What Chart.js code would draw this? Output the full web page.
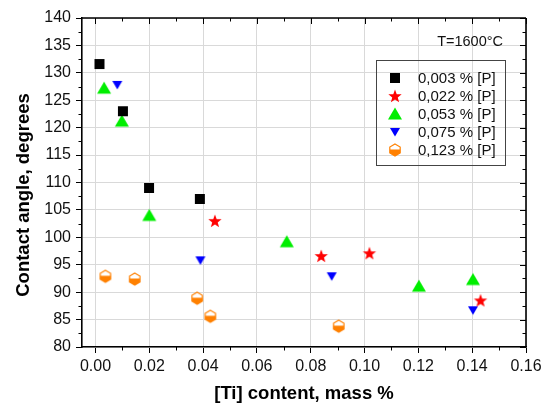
<!DOCTYPE html>
<html>
<head>
<meta charset="utf-8">
<script src="https://cdn.jsdelivr.net/npm/chart.js@4.4.0/dist/chart.umd.min.js"></script>
<style>
  html, body { margin: 0; padding: 0; background: #fff; }
  #wrap { width: 548px; height: 405px; }
</style>
</head>
<body>
<div id="wrap"><canvas id="chart" width="548" height="405"></canvas></div>
<script>
// --- data ---
const seriesLabels = ['0,003 % [P]', '0,022 % [P]', '0,053 % [P]', '0,075 % [P]', '0,123 % [P]'];

const p003X = [0.0015, 0.0102, 0.0199, 0.0388];
const p003Y = [131.6, 123.0, 109.0, 107.0];

const p022X = [0.0444, 0.0839, 0.1018, 0.1431];
const p022Y = [103.0, 96.6, 97.1, 88.5];

const p053X = [0.0032, 0.0098, 0.0200, 0.0711, 0.1202, 0.1403];
const p053Y = [127.2, 121.2, 104.0, 99.2, 91.1, 92.3];

const p075X = [0.0081, 0.0390, 0.0878, 0.1403];
const p075Y = [127.8, 95.8, 92.9, 86.7];

const p123X = [0.0037, 0.0146, 0.0378, 0.0427, 0.0904];
const p123Y = [92.9, 92.4, 88.9, 85.6, 83.8];

const xTicks = [0, 0.02, 0.04, 0.06, 0.08, 0.10, 0.12, 0.14, 0.16];
const yTicks = [80, 85, 90, 95, 100, 105, 110, 115, 120, 125, 130, 135, 140];

const FONT = '"Liberation Sans", Arial, sans-serif';

// --- marker images ---
function makeMarker(size, draw) {
    const c = document.createElement('canvas');
    c.width = size; c.height = size;
    draw(c.getContext('2d'), size / 2);
    return c;
}

const squareMk = makeMarker(12, (ctx, m) => {
    ctx.fillStyle = '#000';
    ctx.fillRect(m - 5, m - 5, 10, 10);
});

const starMk = makeMarker(16, (ctx, m) => {
    ctx.fillStyle = '#ff0000';
    ctx.beginPath();
    for (let i = 0; i < 10; i++) {
        const r = i % 2 === 0 ? 7 : 2.9;
        const a = -Math.PI / 2 + i * Math.PI / 5;
        const px = m + r * Math.cos(a), py = m + 0.5 + r * Math.sin(a);
        i === 0 ? ctx.moveTo(px, py) : ctx.lineTo(px, py);
    }
    ctx.closePath();
    ctx.fill();
});

const triUpMk = makeMarker(16, (ctx, m) => {
    ctx.fillStyle = '#00ee00';
    ctx.beginPath();
    ctx.moveTo(m, m - 6.5);
    ctx.lineTo(m + 7, m + 5.5);
    ctx.lineTo(m - 7, m + 5.5);
    ctx.closePath();
    ctx.fill();
});

const triDownMk = makeMarker(12, (ctx, m) => {
    ctx.fillStyle = '#0000ff';
    ctx.beginPath();
    ctx.moveTo(m - 5, m - 4);
    ctx.lineTo(m + 5, m - 4);
    ctx.lineTo(m, m + 4.5);
    ctx.closePath();
    ctx.fill();
});

const hexMk = makeMarker(16, (ctx, m) => {
    const pts = [];
    for (let i = 0; i < 6; i++) {
        const a = -Math.PI / 2 + i * Math.PI / 3;
        pts.push([m + 6 * Math.cos(a), m + 6 * Math.sin(a)]);
    }
    ctx.beginPath();
    pts.forEach((p, i) => i === 0 ? ctx.moveTo(p[0], p[1]) : ctx.lineTo(p[0], p[1]));
    ctx.closePath();
    ctx.fillStyle = '#fff';
    ctx.fill();
    ctx.save();
    ctx.clip();
    ctx.fillStyle = '#ff8000';
    ctx.fillRect(0, m - 0.5, 16, 16);
    ctx.restore();
    ctx.strokeStyle = '#ff8000';
    ctx.lineWidth = 1.2;
    ctx.stroke();
});

const markers = [squareMk, starMk, triUpMk, triDownMk, hexMk];

function pts(xs, ys) {
    return xs.map((x, i) => ({ x: x, y: ys[i] }));
}

const seriesData = [
    pts(p003X, p003Y),
    pts(p022X, p022Y),
    pts(p053X, p053Y),
    pts(p075X, p075Y),
    pts(p123X, p123Y)
];

// --- frame: top/right axes, minor ticks, titles, legend, note ---
const framePlugin = {
    id: 'frame',
    afterDraw(chart) {
        const ctx = chart.ctx;
        const a = chart.chartArea;
        const xs = chart.scales.x, ys = chart.scales.y;
        ctx.save();
        ctx.strokeStyle = '#000';
        ctx.lineWidth = 1.6;
        ctx.beginPath();
        ctx.moveTo(a.left, a.top); ctx.lineTo(a.right, a.top);
        ctx.moveTo(a.right, a.top); ctx.lineTo(a.right, a.bottom);
        ctx.stroke();

        ctx.lineWidth = 1;
        ctx.beginPath();
        // major ticks on top (inward) and right (inward)
        xTicks.forEach(v => {
            const px = Math.round(xs.getPixelForValue(v)) + 0.5;
            ctx.moveTo(px, a.top); ctx.lineTo(px, a.top + 6);
        });
        yTicks.forEach(v => {
            const py = Math.round(ys.getPixelForValue(v)) + 0.5;
            ctx.moveTo(a.right, py); ctx.lineTo(a.right - 6, py);
        });
        // minor ticks
        for (let v = 0.01; v < 0.16; v += 0.02) {
            const px = Math.round(xs.getPixelForValue(v)) + 0.5;
            ctx.moveTo(px, a.bottom); ctx.lineTo(px, a.bottom + 3.5);
            ctx.moveTo(px, a.top); ctx.lineTo(px, a.top + 3.5);
        }
        for (let v = 82.5; v < 140; v += 5) {
            const py = Math.round(ys.getPixelForValue(v)) + 0.5;
            ctx.moveTo(a.left, py); ctx.lineTo(a.left - 3.5, py);
            ctx.moveTo(a.right, py); ctx.lineTo(a.right - 3.5, py);
        }
        ctx.stroke();

        // axis titles
        ctx.fillStyle = '#000';
        ctx.font = 'bold 18.5px ' + FONT;
        ctx.textAlign = 'center';
        ctx.textBaseline = 'middle';
        ctx.fillText('[Ti] content, mass %', (a.left + a.right) / 2, 394);
        ctx.save();
        ctx.translate(24, 195);
        ctx.rotate(-Math.PI / 2);
        ctx.fillText('Contact angle, degrees', 0, 0);
        ctx.restore();

        // temperature note
        ctx.fillStyle = '#111';
        ctx.font = '14.5px ' + FONT;
        ctx.textAlign = 'right';
        ctx.fillText('T=1600°C', 503, 42);

        // legend box
        ctx.strokeStyle = '#444';
        ctx.lineWidth = 1;
        ctx.strokeRect(376.5, 60.5, 129, 105);
        ctx.font = '15px ' + FONT;
        ctx.textAlign = 'left';
        seriesLabels.forEach((lab, i) => {
            const cy = 78 + i * 18;
            const mk = markers[i];
            ctx.drawImage(mk, Math.round(395 - mk.width / 2), Math.round(cy - mk.height / 2));
            ctx.fillText(lab, 418, cy + 1);
        });
        ctx.restore();
    }
};

new Chart(document.getElementById('chart'), {
    type: 'scatter',
    data: {
        datasets: seriesData.map((d, i) => ({
            label: seriesLabels[i],
            data: d,
            pointStyle: markers[i],
            pointRadius: 6,
            pointHoverRadius: 6
        }))
    },
    options: {
        responsive: false,
        animation: false,
        devicePixelRatio: 1,
        events: [],
        layout: { padding: { top: 18, right: 22, left: 0, bottom: 0 } },
        plugins: {
            legend: { display: false },
            tooltip: { enabled: false }
        },
        scales: {
            x: {
                type: 'linear',
                min: -0.005,
                max: 0.16,
                afterBuildTicks: s => { s.ticks = xTicks.map(v => ({ value: v })); },
                afterFit: s => { s.height = 58; },
                ticks: {
                    callback: v => v.toFixed(2),
                    color: '#111',
                    font: { size: 16, family: FONT },
                    padding: 4,
                    maxRotation: 0,
                    autoSkip: false
                },
                grid: { color: '#d9d9d9', tickColor: '#000', tickLength: 6, lineWidth: 1 },
                border: { color: '#000', width: 1.6 }
            },
            y: {
                type: 'linear',
                min: 80,
                max: 140,
                afterBuildTicks: s => { s.ticks = yTicks.map(v => ({ value: v })); },
                afterFit: s => { s.width = 82; },
                ticks: {
                    color: '#111',
                    font: { size: 16, family: FONT },
                    padding: 5,
                    autoSkip: false
                },
                grid: { color: '#d9d9d9', tickColor: '#000', tickLength: 6, lineWidth: 1 },
                border: { color: '#000', width: 1.6 }
            }
        }
    },
    plugins: [framePlugin]
});
</script>
</body>
</html>
